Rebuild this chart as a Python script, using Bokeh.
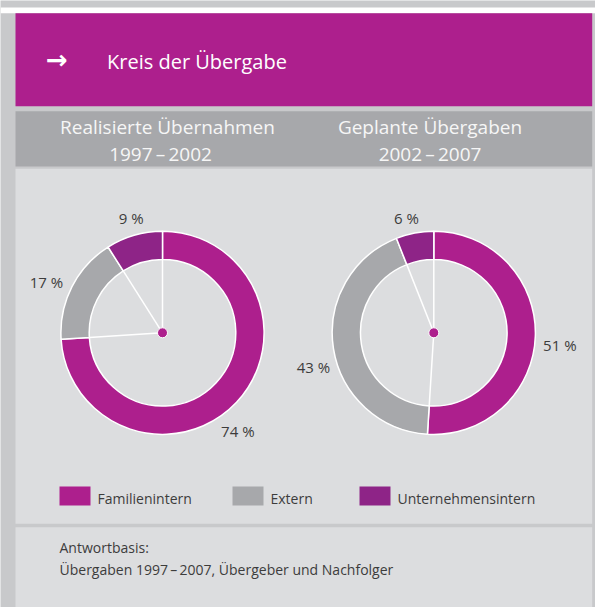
import numpy as np
from bokeh.plotting import figure
from bokeh.models import Range1d, ColumnDataSource
from bokeh.core.properties import value
from bokeh.embed import file_html
from bokeh.resources import INLINE

# ---------------- data ----------------
categories = ["Familienintern", "Extern", "Unternehmensintern"]
realisiert = [74, 17, 9]          # Realisierte Übernahmen 1997–2002
geplant = [51, 43, 6]             # Geplante Übergaben 2002–2007
chart_titles = ["Realisierte Übernahmen", "Geplante Übergaben"]
chart_periods = ["1997\u2009\u2013\u20092002", "2002\u2009\u2013\u20092007"]
header_title = "Kreis der Übergabe"
footnote_lines = ["Antwortbasis:", "Übergaben 1997\u2009\u2013\u20092007, Übergeber und Nachfolger"]

# ---------------- style / layout ----------------
MAGENTA = "#ad1f8d"
GREY = "#a7a8ab"
PURPLE = "#8e2487"
colors = [MAGENTA, GREY, PURPLE]
STRIP = "#c8c9cb"
PANEL = "#dcdddf"
TEXT = "#3c3c3c"
FONT = value("Open Sans")

W, H = 595, 607
TDY = 6  # renderer places text a little lower; compensate


def Y(ref_y):
    # convert a top-down pixel position into the (bottom-up) data space
    return H - ref_y


def YT(ref_y):
    return H - ref_y + TDY


p = figure(width=W, height=H, x_range=Range1d(0, W), y_range=Range1d(0, H),
           output_backend="svg", toolbar_location=None, min_border=0,
           x_axis_location=None, y_axis_location=None)
p.grid.visible = False
p.outline_line_color = None
p.background_fill_color = STRIP
p.border_fill_color = STRIP

# panels
p.quad(left=[0], right=[595], top=[Y(7)], bottom=[Y(12.7)], fill_color="white", line_color=None)
p.quad(left=[15], right=[591.7], top=[Y(12.7)], bottom=[Y(105.7)], fill_color=MAGENTA, line_color=None)
p.quad(left=[15], right=[591.7], top=[Y(110.7)], bottom=[Y(166)], fill_color=GREY, line_color=None)
p.quad(left=[15, 15], right=[591.7, 591.7], top=[Y(168.3), Y(526.7)], bottom=[Y(523.3), Y(612)],
       fill_color=PANEL, line_color=None)

# header
p.text(x=[56.5], y=[YT(61) - 4], text=["\u2192"], text_font=value("DejaVu Sans"), text_font_size="26px",
       text_font_style="bold", text_color="white", text_align="center", text_baseline="middle")
p.text(x=[106.5], y=[YT(66.7)], text=[header_title], text_font=FONT, text_font_size="20px",
       text_color="white", text_align="left", text_baseline="alphabetic")

# chart titles
p.text(x=[167, 429.5], y=[YT(132.7)] * 2, text=chart_titles, text_font=FONT, text_font_size="19px",
       text_color="#f6f6f6", text_align="center", text_baseline="alphabetic")
p.text(x=[160, 429.5], y=[YT(159.3)] * 2, text=chart_periods, text_font=FONT, text_font_size="19px",
       text_color="#f6f6f6", text_align="center", text_baseline="alphabetic")

# donuts
centers_x = [162, 433.3]
center_y = Y(332.3)
R_OUT, R_IN = 101.6, 73.3
LABEL_R = 122
label_nudges = [
    [(-13.6, 20.9), (-7.3, 10.4), (2.7, 8.8)],
    [(4.1, 14.6), (0.2, 21.3), (-4.4, 10.8)],
]

for ci, (cx, vals) in enumerate(zip(centers_x, [realisiert, geplant])):
    vals = np.array(vals, dtype=float)
    frac = vals / vals.sum()
    cum_after = np.cumsum(frac)
    cum_before = cum_after - frac
    start = np.pi / 2 - 2 * np.pi * cum_before
    end = np.pi / 2 - 2 * np.pi * cum_after
    src = ColumnDataSource(dict(start=start, end=end, color=colors,
                                x=[cx] * 3, y=[center_y] * 3))
    p.annular_wedge(x="x", y="y", inner_radius=R_IN, outer_radius=R_OUT,
                    start_angle="start", end_angle="end", direction="clock",
                    fill_color="color", line_color="white", line_width=1.5, source=src)
    # spokes from centre to ring at each boundary
    p.segment(x0=[cx] * 3, y0=[center_y] * 3,
              x1=list(cx + R_IN * np.cos(start)), y1=list(center_y + R_IN * np.sin(start)),
              line_color="white", line_width=1.5)
    p.circle(x=[cx], y=[center_y], radius=5, fill_color=MAGENTA, line_color="white", line_width=1)
    # labels
    mid = np.pi / 2 - 2 * np.pi * (cum_before + frac / 2)
    lx = cx + LABEL_R * np.cos(mid) + np.array([n[0] for n in label_nudges[ci]])
    ly = center_y + LABEL_R * np.sin(mid) - np.array([n[1] for n in label_nudges[ci]]) + TDY
    p.text(x=list(lx), y=list(ly), text=[f"{int(v)} %" for v in vals], text_font=FONT,
           text_font_size="15px", text_color=TEXT, text_align="center", text_baseline="alphabetic")

# legend
legend_left = [59, 232, 359]
p.quad(left=legend_left, right=[v + 31 for v in legend_left], top=[Y(486)] * 3, bottom=[Y(505)] * 3,
       fill_color=colors, line_color=None)
p.text(x=[v + 38 for v in legend_left], y=[YT(504.3)] * 3, text=categories, text_font=FONT,
       text_font_size="14px", text_color=TEXT, text_align="left", text_baseline="alphabetic")

# footnote
p.text(x=[59, 59], y=[YT(553), YT(575)], text=footnote_lines, text_font=FONT, text_font_size="14px",
       text_color=TEXT, text_align="left", text_baseline="alphabetic")

open("out.html", "w").write(file_html(p, INLINE))
